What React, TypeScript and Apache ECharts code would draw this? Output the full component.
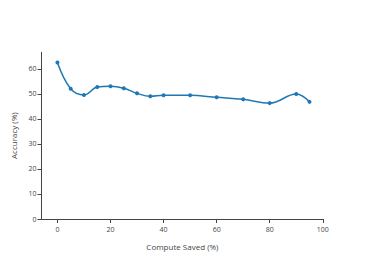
import React, { useEffect, useRef } from "react";
import * as echarts from "echarts";

const computeSaved = [0, 5, 10, 15, 20, 25, 30, 35, 40, 50, 60, 70, 80, 90, 95];
const accuracy = [62.5, 52.0, 49.5, 52.7, 53.0, 52.2, 50.2, 49.0, 49.4, 49.4, 48.6, 47.8, 46.3, 49.9, 46.8];
const xTicks = [0, 20, 40, 60, 80, 100];
const yTicks = [0, 10, 20, 30, 40, 50, 60];

export default function App() {
  const ref = useRef<HTMLDivElement>(null);
  useEffect(() => {
    if (!ref.current) return;
    const chart = echarts.init(ref.current, null, { renderer: "svg" });
    const axisColor = "#444";
    const font = "'Open Sans', sans-serif";
    chart.setOption({
      animation: false,
      grid: { left: 41.5, right: 42.7, top: 52.3, bottom: 42 },
      xAxis: {
        type: "value",
        min: -6,
        max: 100.2,
        name: "Compute Saved (%)",
        nameLocation: "middle",
        nameGap: 23,
        nameTextStyle: { color: axisColor, fontSize: 8, fontFamily: font },
        splitLine: { show: false },
        axisLine: { onZero: false, lineStyle: { color: axisColor, width: 1 } },
        axisTick: { show: true, customValues: xTicks, length: 4, lineStyle: { color: axisColor } },
        axisLabel: { customValues: xTicks, color: axisColor, fontSize: 7, fontFamily: font, margin: 7 },
      },
      yAxis: {
        type: "value",
        min: 0,
        max: 66.6,
        name: "Accuracy (%)",
        nameLocation: "middle",
        nameGap: 24,
        nameTextStyle: { color: axisColor, fontSize: 8, fontFamily: font },
        splitLine: { show: false },
        axisLine: { show: true, onZero: false, lineStyle: { color: axisColor, width: 1 } },
        axisTick: { show: true, customValues: yTicks, length: 4, lineStyle: { color: axisColor } },
        axisLabel: { customValues: yTicks, color: axisColor, fontSize: 7, fontFamily: font, margin: 5 },
      },
      series: [
        {
          type: "line",
          data: computeSaved.map((x, i) => [x, accuracy[i]]),
          smooth: 0.4,
          symbol: "circle",
          symbolSize: 4,
          showSymbol: true,
          lineStyle: { color: "#1f77b4", width: 1.5 },
          itemStyle: { color: "#1f77b4" },
        },
      ],
    });
    return () => chart.dispose();
  }, []);
  return <div ref={ref} style={{ width: 366, height: 261, margin: -8 }} />;
}
